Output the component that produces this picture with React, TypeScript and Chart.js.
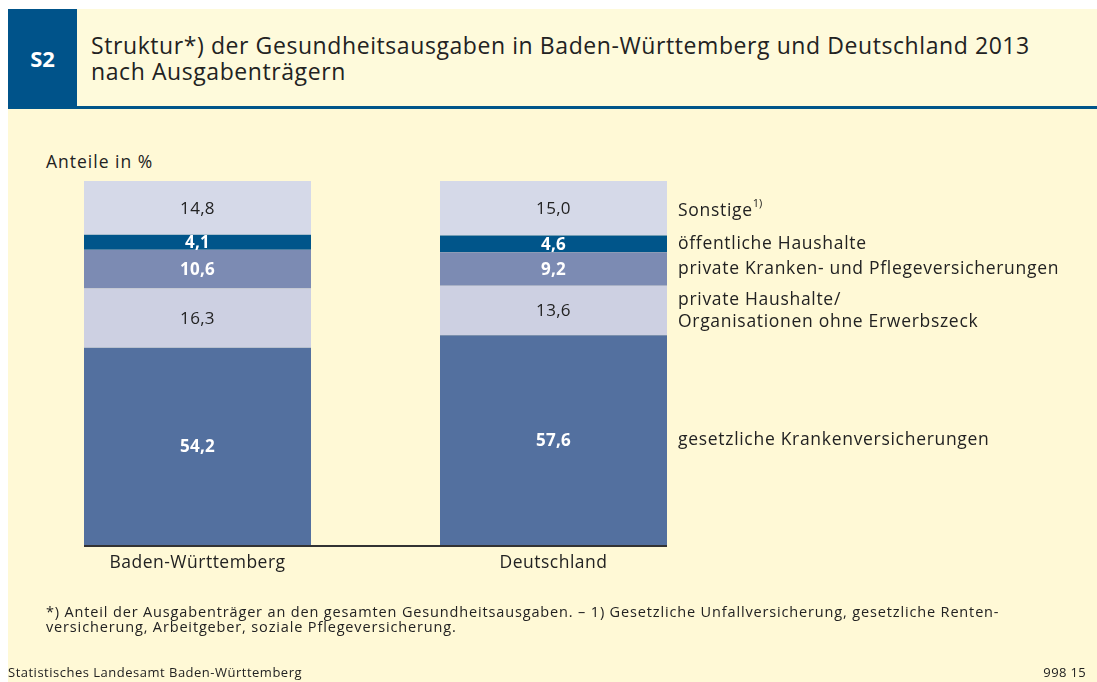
import React, { useEffect, useRef } from "react";
import { Chart, registerables } from "chart.js";

Chart.register(...registerables);

const categories = ["Baden-Württemberg", "Deutschland"];
const gesetzlicheKV = [54.2, 57.6];
const privateHaushalte = [16.3, 13.6];
const privateKV = [10.6, 9.2];
const oeffentlicheHaushalte = [4.1, 4.6];
const sonstige = [14.8, 15.0];

const seriesLabels: string[][] = [
  ["gesetzliche Krankenversicherungen"],
  ["private Haushalte/", "Organisationen ohne Erwerbszeck"],
  ["private Kranken- und Pflegeversicherungen"],
  ["öffentliche Haushalte"],
  ["Sonstige"],
];
const seriesColors = ["#53709f", "#cdd0e2", "#7c8bb3", "#00558a", "#d5d9e8"];
const seriesBoldWhite = [true, false, true, true, false];

const FONT = "'Open Sans', 'Liberation Sans', Arial, sans-serif";
const LABEL_SPACING = "0.7px";

const labelPlugin = {
  id: "labelPlugin",
  afterDatasetsDraw(chart: any) {
    const ctx = chart.ctx;
    const area = chart.chartArea;
    ctx.save();
    let firstLeft = Infinity;
    let lastRight = -Infinity;
    chart.data.datasets.forEach((ds: any, di: number) => {
      const meta = chart.getDatasetMeta(di);
      meta.data.forEach((el: any, i: number) => {
        const v = ds.data[i];
        const cx = el.x;
        const cy = (el.y + el.base) / 2;
        firstLeft = Math.min(firstLeft, el.x - el.width / 2);
        lastRight = Math.max(lastRight, el.x + el.width / 2);
        ctx.textAlign = "center";
        ctx.textBaseline = "middle";
        ctx.letterSpacing = "0.3px";
        if (seriesBoldWhite[di]) {
          ctx.font = `bold 17px ${FONT}`;
          ctx.fillStyle = "#ffffff";
        } else {
          ctx.font = `17px ${FONT}`;
          ctx.fillStyle = "#222222";
        }
        ctx.fillText(v.toFixed(1).replace(".", ","), cx, cy + 1);
      });
    });
    // axis line
    ctx.strokeStyle = "#333333";
    ctx.lineWidth = 2;
    ctx.beginPath();
    ctx.moveTo(firstLeft, area.bottom + 1);
    ctx.lineTo(lastRight, area.bottom + 1);
    ctx.stroke();
    // category labels
    const meta0 = chart.getDatasetMeta(0);
    ctx.font = `17.5px ${FONT}`;
    ctx.letterSpacing = "0.5px";
    ctx.fillStyle = "#222222";
    ctx.textAlign = "center";
    ctx.textBaseline = "middle";
    chart.data.labels.forEach((lab: string, i: number) => {
      ctx.fillText(lab, meta0.data[i].x, area.bottom + 18);
    });
    // right-side series labels aligned with last bar
    const lastIdx = chart.data.labels.length - 1;
    chart.data.datasets.forEach((ds: any, di: number) => {
      const el = chart.getDatasetMeta(di).data[lastIdx];
      const cy = (el.y + el.base) / 2;
      const x = el.x + el.width / 2 + 11;
      const lines = seriesLabels[di];
      const lh = 22;
      ctx.textAlign = "left";
      ctx.textBaseline = "middle";
      ctx.font = `17.5px ${FONT}`;
      ctx.letterSpacing = LABEL_SPACING;
      ctx.fillStyle = "#222222";
      lines.forEach((ln, li) => {
        const y = cy - ((lines.length - 1) * lh) / 2 + li * lh;
        ctx.fillText(ln, x, y + (di === 4 ? 3 : 0));
        if (di === 4) {
          const w = ctx.measureText(ln).width;
          ctx.font = `11px ${FONT}`;
          ctx.letterSpacing = "0px";
          ctx.fillText("1)", x + w, y - 4);
          ctx.font = `17.5px ${FONT}`;
          ctx.letterSpacing = LABEL_SPACING;
        }
      });
    });
    ctx.restore();
  },
};

function BarChart() {
  const ref = useRef<HTMLCanvasElement | null>(null);
  useEffect(() => {
    if (!ref.current) return;
    const values = [gesetzlicheKV, privateHaushalte, privateKV, oeffentlicheHaushalte, sonstige];
    const chart = new Chart(ref.current, {
      type: "bar",
      data: {
        labels: categories,
        datasets: values.map((d, i) => ({
          label: seriesLabels[i].join(" "),
          data: d,
          backgroundColor: seriesColors[i],
          borderWidth: 0,
          barPercentage: 1,
          categoryPercentage: 227 / 356,
        })),
      },
      options: {
        animation: false,
        responsive: false,
        maintainAspectRatio: false,
        events: [],
        layout: { padding: { left: 11.5, right: 365.5, top: 172, bottom: 137 } },
        plugins: { legend: { display: false }, tooltip: { enabled: false } },
        scales: {
          x: { stacked: true, display: false },
          y: { stacked: true, display: false, min: 0, max: 100 },
        },
      },
      plugins: [labelPlugin],
    });
    return () => chart.destroy();
  }, []);
  return (
    <canvas
      ref={ref}
      width={1089}
      height={673}
      style={{ position: "absolute", left: 0, top: 0, width: 1089, height: 673 }}
    />
  );
}

export default function App() {
  const text = "#222222";
  return (
    <div
      style={{
        position: "fixed",
        left: 8,
        top: 9,
        width: 1089,
        height: 673,
        background: "#fff9d6",
        fontFamily: FONT,
        color: text,
        overflow: "hidden",
      }}
    >
      <div
        style={{
          position: "absolute",
          left: 0,
          top: 0,
          width: 1089,
          height: 97,
          background: "#fefadb",
        }}
      />
      <div
        style={{
          position: "absolute",
          left: 0,
          top: 97,
          width: 1089,
          height: 2.5,
          background: "#00558a",
        }}
      />
      <div
        style={{
          position: "absolute",
          left: 0,
          top: 0,
          width: 69,
          height: 98,
          background: "#00538a",
          color: "#ffffff",
          fontWeight: "bold",
          fontSize: 22,
          display: "flex",
          alignItems: "center",
          justifyContent: "center",
        }}
      >
        S2
      </div>
      <div
        style={{
          position: "absolute",
          left: 83,
          top: 23,
          fontSize: 23,
          lineHeight: "26px",
          letterSpacing: "0.58px",
          whiteSpace: "nowrap",
        }}
      >
        Struktur*) der Gesundheitsausgaben in Baden-Württemberg und Deutschland 2013
        <br />
        nach Ausgabenträgern
      </div>
      <div
        style={{
          position: "absolute",
          left: 38,
          top: 140,
          fontSize: 17.5,
          letterSpacing: "1px",
          whiteSpace: "nowrap",
        }}
      >
        Anteile in %
      </div>
      <BarChart />
      <div
        style={{
          position: "absolute",
          left: 38,
          top: 595,
          fontSize: 14.5,
          lineHeight: "15px",
          letterSpacing: "0.85px",
          whiteSpace: "nowrap",
        }}
      >
        *) Anteil der Ausgabenträger an den gesamten Gesundheitsausgaben. – 1) Gesetzliche Unfallversicherung, gesetzliche Renten-
        <br />
        versicherung, Arbeitgeber, soziale Pflegeversicherung.
      </div>
      <div
        style={{
          position: "absolute",
          left: 0,
          top: 654,
          fontSize: 13,
          letterSpacing: "0.5px",
          whiteSpace: "nowrap",
        }}
      >
        Statistisches Landesamt Baden-Württemberg
      </div>
      <div
        style={{
          position: "absolute",
          right: 11,
          top: 654,
          fontSize: 13,
          letterSpacing: "0.35px",
          whiteSpace: "nowrap",
        }}
      >
        998 15
      </div>
    </div>
  );
}
